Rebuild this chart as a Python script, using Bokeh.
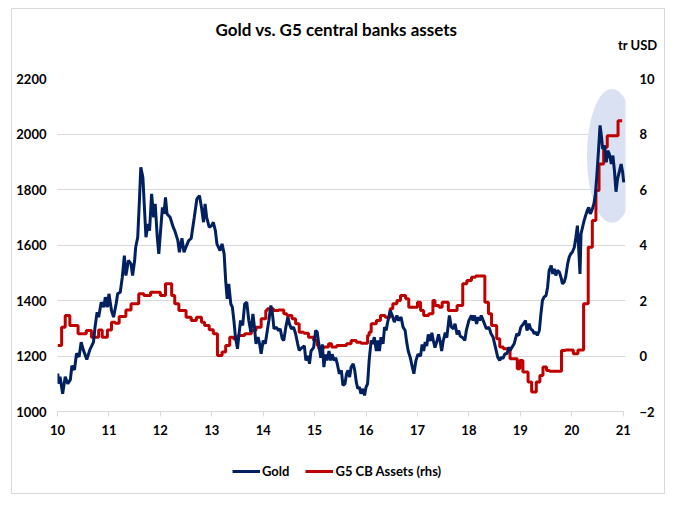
from bokeh.plotting import figure
from bokeh.layouts import column
from bokeh.models import Range1d, LinearAxis, Legend, LegendItem, Label, FixedTicker
from bokeh.embed import file_html
from bokeh.resources import INLINE

# ---------------- data ----------------
gold_years = [
    10.006, 10.02, 10.05, 10.10, 10.15, 10.20, 10.25, 10.28, 10.33, 10.37, 10.42, 10.46, 10.50, 10.57, 10.63,
    10.70, 10.73, 10.77, 10.80, 10.85, 10.90, 10.93, 10.97, 11.00, 11.05, 11.09, 11.14, 11.17, 11.22, 11.26,
    11.30, 11.33, 11.38, 11.43, 11.46, 11.50, 11.52, 11.56, 11.59, 11.62, 11.66, 11.69, 11.72, 11.76, 11.79,
    11.83, 11.87, 11.90, 11.94, 11.97, 12.00, 12.04, 12.07, 12.10, 12.13, 12.19, 12.25, 12.28, 12.34, 12.37,
    12.42, 12.46, 12.51, 12.55, 12.60, 12.66, 12.71, 12.76, 12.80, 12.84, 12.87, 12.90, 12.95, 13.00, 13.03,
    13.07, 13.10, 13.16, 13.20, 13.24, 13.27, 13.30, 13.33, 13.37, 13.40, 13.43, 13.46, 13.50, 13.53, 13.56,
    13.60, 13.64, 13.68, 13.72, 13.76, 13.80, 13.83, 13.86, 13.90, 13.93, 13.96, 14.00, 14.04, 14.08, 14.11,
    14.15, 14.18, 14.21, 14.25, 14.30, 14.33, 14.37, 14.40, 14.44, 14.48, 14.51, 14.55, 14.59, 14.63, 14.67,
    14.70, 14.75, 14.80, 14.83, 14.88, 14.90, 14.93, 14.98, 15.02, 15.05, 15.09, 15.12, 15.15, 15.18, 15.21,
    15.24, 15.28, 15.31, 15.34, 15.38, 15.41, 15.44, 15.48, 15.52, 15.55, 15.59, 15.62, 15.65, 15.68, 15.71,
    15.75, 15.78, 15.81, 15.84, 15.87, 15.90, 15.94, 15.97, 16.00, 16.03, 16.06, 16.10, 16.13, 16.16, 16.20,
    16.23, 16.26, 16.29, 16.33, 16.36, 16.39, 16.42, 16.47, 16.51, 16.55, 16.60, 16.63, 16.68, 16.72, 16.76,
    16.79, 16.82, 16.86, 16.90, 16.93, 16.97, 17.01, 17.06, 17.09, 17.12, 17.15, 17.18, 17.21, 17.25, 17.28,
    17.31, 17.34, 17.38, 17.41, 17.44, 17.47, 17.50, 17.54, 17.57, 17.62, 17.66, 17.70, 17.73, 17.77, 17.80,
    17.83, 17.88, 17.92, 17.95, 18.00, 18.05, 18.08, 18.11, 18.15, 18.18, 18.21, 18.24, 18.29, 18.34, 18.39,
    18.43, 18.47, 18.50, 18.53, 18.56, 18.60, 18.63, 18.66, 18.70, 18.74, 18.78, 18.80, 18.84, 18.88, 18.93,
    18.97, 19.01, 19.06, 19.10, 19.13, 19.17, 19.20, 19.24, 19.27, 19.30, 19.33, 19.37, 19.40, 19.43, 19.46,
    19.50, 19.53, 19.56, 19.60, 19.63, 19.66, 19.69, 19.72, 19.76, 19.79, 19.82, 19.85, 19.88, 19.92, 19.95,
    19.98, 20.01, 20.05, 20.08, 20.11, 20.13, 20.16, 20.18, 20.21, 20.24, 20.26, 20.30, 20.33, 20.36, 20.39,
    20.43, 20.46, 20.49, 20.52, 20.55, 20.58, 20.60, 20.64, 20.67, 20.70, 20.73, 20.77, 20.80, 20.83, 20.86,
    20.89, 20.93, 20.96, 20.99, 21.01,
]
gold_usd = [
    1137, 1100, 1125, 1064, 1125, 1100, 1115, 1165, 1150, 1209, 1197, 1250, 1223, 1187, 1223,
    1250, 1304, 1358, 1340, 1394, 1376, 1412, 1376, 1424, 1364, 1340, 1388, 1424, 1430, 1484,
    1562, 1490, 1544, 1532, 1490, 1544, 1592, 1628, 1748, 1880, 1844, 1736, 1628, 1676, 1652,
    1784, 1700, 1748, 1628, 1568, 1640, 1736, 1712, 1772, 1712, 1700, 1664, 1652, 1616, 1574,
    1624, 1574, 1598, 1616, 1624, 1700, 1766, 1778, 1736, 1682, 1748, 1700, 1664, 1670, 1682,
    1652, 1604, 1580, 1604, 1569, 1472, 1406, 1460, 1388, 1376, 1328, 1268, 1226, 1280, 1328,
    1310, 1388, 1394, 1328, 1286, 1352, 1304, 1244, 1268, 1244, 1208, 1256, 1244, 1292, 1328,
    1382, 1352, 1298, 1304, 1292, 1298, 1262, 1256, 1304, 1340, 1316, 1298, 1304, 1280, 1244,
    1220, 1230, 1236, 1184, 1200, 1172, 1218, 1230, 1292, 1286, 1230, 1194, 1242, 1160, 1206,
    1184, 1218, 1184, 1206, 1184, 1194, 1172, 1136, 1148, 1094, 1100, 1136, 1148, 1124, 1160,
    1172, 1148, 1106, 1082, 1088, 1064, 1082, 1058, 1088, 1100, 1184, 1256, 1244, 1268, 1218,
    1256, 1218, 1268, 1244, 1304, 1292, 1322, 1364, 1346, 1322, 1346, 1328, 1340, 1304, 1292,
    1250, 1218, 1194, 1160, 1136, 1184, 1206, 1200, 1242, 1218, 1250, 1236, 1278, 1254, 1284,
    1254, 1230, 1254, 1278, 1254, 1218, 1254, 1284, 1266, 1346, 1304, 1298, 1316, 1278, 1292,
    1272, 1266, 1256, 1292, 1328, 1346, 1328, 1346, 1316, 1340, 1328, 1346, 1322, 1298, 1304,
    1280, 1268, 1244, 1220, 1196, 1184, 1196, 1190, 1208, 1208, 1232, 1220, 1232, 1244, 1280,
    1274, 1304, 1316, 1328, 1292, 1316, 1298, 1292, 1280, 1286, 1274, 1292, 1352, 1400, 1412,
    1418, 1448, 1508, 1526, 1496, 1514, 1490, 1508, 1502, 1484, 1460, 1466, 1484, 1532, 1556,
    1568, 1574, 1592, 1628, 1670, 1604, 1496, 1640, 1664, 1688, 1700, 1724, 1736, 1712, 1724,
    1748, 1784, 1856, 1940, 2031, 1988, 1946, 1958, 1898, 1940, 1928, 1892, 1922, 1868, 1792,
    1838, 1868, 1892, 1862, 1826,
]

g5_years = [
    10.00, 10.08, 10.15, 10.24, 10.40, 10.56, 10.66, 10.80, 10.87, 10.97, 11.05, 11.12, 11.20, 11.33, 11.43,
    11.58, 11.68, 11.81, 12.00, 12.10, 12.22, 12.28, 12.36, 12.50, 12.60, 12.70, 12.80, 12.86, 12.95, 13.03,
    13.11, 13.20, 13.27, 13.35, 13.42, 13.51, 13.64, 13.77, 13.86, 13.96, 14.05, 14.08, 14.20, 14.30, 14.40,
    14.46, 14.56, 14.63, 14.70, 14.79, 14.88, 14.98, 15.05, 15.08, 15.17, 15.27, 15.33, 15.43, 15.62, 15.71,
    15.81, 15.90, 16.03, 16.06, 16.10, 16.20, 16.28, 16.37, 16.47, 16.52, 16.60, 16.67, 16.77, 16.83, 17.00,
    17.06, 17.12, 17.22, 17.30, 17.34, 17.42, 17.48, 17.60, 17.77, 17.88, 17.96, 18.05, 18.13, 18.31, 18.38,
    18.44, 18.54, 18.60, 18.67, 18.80, 18.94, 18.99, 19.05, 19.15, 19.22, 19.31, 19.38, 19.44, 19.51, 19.57,
    19.80, 19.88, 20.03, 20.12, 20.23, 20.32, 20.40, 20.47, 20.53, 20.62, 20.69, 20.90, 20.98,
]
g5_tr_usd = [
    0.38, 1.04, 1.46, 1.10, 0.80, 0.92, 0.68, 0.94, 0.68, 0.94, 1.22, 1.18, 1.42, 1.66, 1.88,
    2.24, 2.18, 2.30, 2.18, 2.60, 2.18, 1.88, 1.64, 1.40, 1.28, 1.40, 1.22, 1.10, 0.95, 0.80,
    0.02, 0.14, 0.38, 0.68, 0.62, 0.74, 0.80, 0.92, 1.04, 1.34, 1.64, 1.70, 1.64, 1.66, 1.52,
    1.46, 1.34, 1.16, 0.86, 0.82, 0.68, 0.56, 0.38, 0.26, 0.32, 0.44, 0.32, 0.38, 0.44, 0.56,
    0.50, 0.46, 0.74, 0.86, 1.16, 1.28, 1.46, 1.40, 1.70, 1.88, 2.00, 2.18, 2.06, 1.76, 1.94,
    1.64, 1.46, 1.52, 2.00, 1.82, 1.76, 1.94, 1.64, 1.82, 2.60, 2.72, 2.84, 2.88, 1.94, 1.52,
    1.10, 0.62, 0.32, 0.26, -0.10, -0.46, -0.16, -0.58, -0.94, -1.30, -0.94, -0.70, -0.40, -0.52, -0.55,
    0.20, 0.22, 0.08, 0.22, 1.88, 3.92, 4.88, 5.96, 6.92, 7.52, 7.94, 8.48, 8.48,
]

x_ticks = [10, 11, 12, 13, 14, 15, 16, 17, 18, 19, 20, 21]
left_ticks = [1000, 1200, 1400, 1600, 1800, 2000, 2200]
right_ticks = [-2, 0, 2, 4, 6, 8, 10]

title_text = "Gold vs. G5 central banks assets"
unit_text = "tr USD"
series_names = ["Gold", "G5 CB Assets (rhs)"]

# highlight ellipse (annotation)
hl_x, hl_y, hl_w, hl_h = 20.78, 1921, 0.97, 483

FONT = "Lato"
GOLD_C = "#002060"
G5_C = "#C00000"
GRID_C = "#d9d9d9"
W = 652
PAGE_X0 = 12      # left edge of the chart box on the page


def bare(fig):
    fig.outline_line_color = None
    fig.background_fill_color = "white"
    fig.border_fill_color = "white"
    return fig


# ---------------- main chart ----------------
p = bare(figure(width=W, height=373, x_range=Range1d(10, 21.045), y_range=Range1d(1000, 2200),
                output_backend="svg", toolbar_location=None, title=None,
                min_border_left=45, min_border_right=39, min_border_top=10, min_border_bottom=30))
p.extra_y_ranges = {"rhs": Range1d(-2, 10)}

p.ellipse(x=[hl_x], y=[hl_y], width=hl_w, height=hl_h, fill_color="#d9e1f2", line_color=None)
p.step(g5_years, g5_tr_usd, mode="after", line_color=G5_C, line_width=3, y_range_name="rhs")
p.line(gold_years, gold_usd, line_color=GOLD_C, line_width=3)

xa = p.xaxis[0]
xa.ticker = FixedTicker(ticks=x_ticks)
xa.bounds = (x_ticks[0], x_ticks[-1])
xa.axis_line_color = GRID_C
xa.major_tick_line_color = GRID_C
xa.major_tick_in = 0
xa.major_tick_out = 5
xa.minor_tick_line_color = None
xa.minor_tick_in = 0
xa.minor_tick_out = 0
xa.major_label_standoff = 8

ya = p.yaxis[0]
ya.ticker = FixedTicker(ticks=left_ticks)

ra = LinearAxis(y_range_name="rhs", ticker=FixedTicker(ticks=right_ticks))
p.add_layout(ra, "right")

for ax in (ya, ra):
    ax.axis_line_color = None
    ax.major_tick_line_color = None
    ax.minor_tick_line_color = None
    ax.major_tick_in = 0
    ax.major_tick_out = 0
    ax.minor_tick_in = 0
    ax.minor_tick_out = 0
ya.major_label_standoff = 11
ra.major_label_standoff = 14

for ax in (xa, ya, ra):
    ax.major_label_text_font = FONT
    ax.major_label_text_font_size = "13px"
    ax.major_label_text_font_style = "bold"
    ax.major_label_text_color = "#000000"

p.xgrid.visible = False
p.ygrid.grid_line_color = GRID_C
p.ygrid.ticker = FixedTicker(ticks=left_ticks)

# ---------------- header (title + unit) and legend strip ----------------
head = bare(figure(width=W, height=59, y_range=Range1d(0, 59),
                   x_axis_type=None, y_axis_type=None, output_backend="svg", toolbar_location=None,
                   min_border=0, title=None))
leg = bare(figure(width=W, height=52, y_range=Range1d(0, 52),
                  x_axis_type=None, y_axis_type=None, output_backend="svg", toolbar_location=None,
                  min_border=0, title=None))

if hasattr(head, "frame_align"):
    head.frame_align = False
    leg.frame_align = False
    fx0, fx1 = PAGE_X0, PAGE_X0 + W
else:
    fx0, fx1 = PAGE_X0 + 45, PAGE_X0 + W - 39

# page-pixel x coordinates inside the header/legend strips
head.x_range = Range1d(fx0, fx1)
leg.x_range = Range1d(fx0, fx1)
head.grid.visible = False
leg.grid.visible = False

head.add_layout(Label(x=336, y=39, text=title_text, text_align="center", text_baseline="middle",
                      text_font=FONT, text_font_size="17px", text_font_style="bold", text_color="#000000"))
head.add_layout(Label(x=657, y=24, text=unit_text, text_align="right", text_baseline="middle",
                      text_font=FONT, text_font_size="13px", text_font_style="bold", text_color="#000000"))

nan = float("nan")
gold_key = leg.line(x=[nan], y=[nan], line_color=GOLD_C, line_width=3)
g5_key = leg.line(x=[nan], y=[nan], line_color=G5_C, line_width=3)
legend = Legend(items=[LegendItem(label=series_names[0], renderers=[gold_key]),
                       LegendItem(label=series_names[1], renderers=[g5_key])],
                orientation="horizontal", location=(232 - fx0, 14), glyph_width=28, glyph_height=16,
                label_height=16, label_standoff=2, spacing=16, padding=0, margin=0,
                border_line_color=None, background_fill_alpha=0,
                label_text_font=FONT, label_text_font_size="13px", label_text_font_style="bold",
                label_text_color="#000000")
leg.add_layout(legend, "center")

layout = column(head, p, leg, spacing=0)
layout.styles = {"margin-left": "12px", "margin-top": "9px", "outline": "1px solid #d9d9d9"}

open("out.html", "w").write(file_html(layout, INLINE))
